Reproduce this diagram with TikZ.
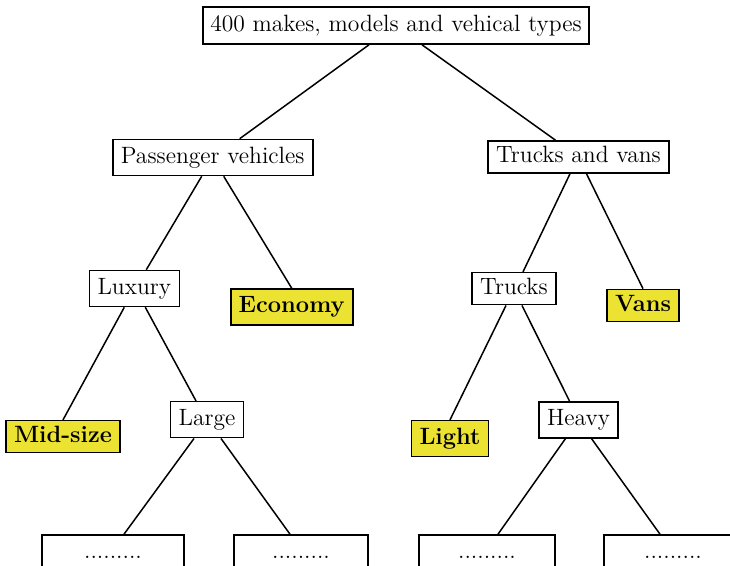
\documentclass[tikz,border=0pt]{standalone}
\usetikzlibrary{calc}
\definecolor{hl}{RGB}{235,226,50}
\begin{document}
\begin{tikzpicture}[x=0.5pt,y=-0.5pt,
  box/.style={draw, line width=0.8pt, inner sep=0pt, text height=8pt, text depth=2.3pt,
    font=\fontsize{11.8}{13}\selectfont, minimum height=18pt},
  leaf/.style={box, fill=hl, font=\fontsize{11.8}{13}\selectfont\bfseries},
  link/.style={line width=0.75pt}]
\useasboundingbox (0,0) rectangle (730,566);
\clip (0,0) rectangle (730,566);
\node[box, minimum width=193pt, minimum height=18.5pt] (root) at (396,25.5) {400 makes, models and vehical types};
\node[box, minimum width=100pt] (pv) at (212.7,157.5) {Passenger vehicles};
\node[box, minimum width=90.5pt, minimum height=16pt] (tv) at (578.5,157) {Trucks and vans};
\node[box, minimum width=45pt] (lux) at (134.3,288.5) {Luxury};
\node[leaf, minimum width=61pt] (eco) at (291.7,307) {Economy};
\node[box, minimum width=42pt, minimum height=16pt] (tr) at (514,288.7) {Trucks};
\node[leaf, minimum width=36pt, minimum height=16pt] (vans) at (643,305.5) {Vans};
\node[leaf, minimum width=57pt, minimum height=16pt] (mid) at (63,436.7) {Mid-size};
\node[box, minimum width=36.5pt] (large) at (207,419.7) {Large};
\node[leaf, minimum width=38.5pt] (light) at (450,438.7) {Light};
\node[box, minimum width=39.5pt] (heavy) at (578.5,419.8) {Heavy};
\node[box, minimum width=71pt] (b1) at (113,553) {.........};
\node[box, minimum width=67pt] (b2) at (301,553) {.........};
\node[box, minimum width=68pt] (b3) at (487,553) {.........};
\node[box, minimum width=69pt] (b4) at (673,553) {.........};
\draw[link] ($(root.south)+(-27,0)$) -- ($(pv.north)+(27,0)$);
\draw[link] ($(root.south)+(26,0)$) -- ($(tv.north)+(-23,0)$);
\draw[link] ($(pv.south)+(-11,0)$) -- ($(lux.north)+(12,0)$);
\draw[link] ($(pv.south)+(11,0)$) -- (eco.north);
\draw[link] ($(tv.south)+(-8.5,0)$) -- ($(tr.north)+(9,0)$);
\draw[link] ($(tv.south)+(8,0)$) -- (vans.north);
\draw[link] ($(lux.south)+(-10,0)$) -- (mid.north);
\draw[link] ($(lux.south)+(11,0)$) -- ($(large.north)+(-11,0)$);
\draw[link] ($(tr.south)+(-8,0)$) -- (light.north);
\draw[link] ($(tr.south)+(8,0)$) -- ($(heavy.north)+(-9,0)$);
\draw[link] ($(large.south)+(-13,0)$) -- ($(b1.north)+(11,0)$);
\draw[link] ($(large.south)+(14,0)$) -- ($(b2.north)+(-11,0)$);
\draw[link] ($(heavy.south)+(-13,0)$) -- ($(b3.north)+(11,0)$);
\draw[link] ($(heavy.south)+(13,0)$) -- ($(b4.north)+(-13,0)$);
\end{tikzpicture}
\end{document}
